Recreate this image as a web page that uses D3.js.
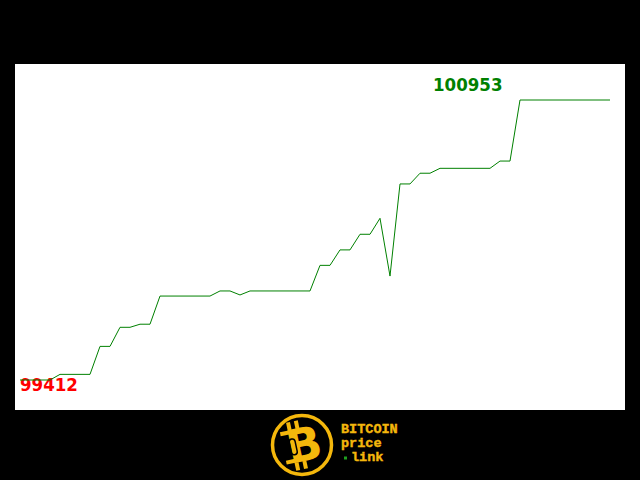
<!DOCTYPE html>
<html>
<head>
<meta charset="utf-8">
<script src="https://d3js.org/d3.v7.min.js"></script>
<style>
html,body{margin:0;padding:0;background:#000;}
svg{display:block;}
</style>
</head>
<body>
<script>
const prices = [
  99412, 99412, 99412, 99412, 99443, 99443, 99443, 99443, 99597, 99597,
  99702, 99702, 99719, 99719, 99874, 99874, 99874, 99874, 99874, 99874,
  99902, 99902, 99880, 99902, 99902, 99902, 99902, 99902, 99902, 99902,
  100043, 100043, 100128, 100128, 100214, 100214, 100302, 99984, 100491, 100491,
  100550, 100550, 100577, 100577, 100577, 100577, 100577, 100577, 100617, 100617,
  100953, 100953, 100953, 100953, 100953, 100953, 100953, 100953, 100953, 100953
];
const minLabel = "99412";
const maxLabel = "100953";
const logoLines = ["BITCOIN", "price", "link"];

const W = 640, H = 480;
const svg = d3.select("body").append("svg").attr("width", W).attr("height", H);
svg.append("rect").attr("width", W).attr("height", H).attr("fill", "#000");
svg.append("rect").attr("x", 15).attr("y", 64).attr("width", 610).attr("height", 346).attr("fill", "#fff");

const x = d3.scaleLinear().domain([0, prices.length - 1]).range([20, 610]);
const y = d3.scaleLinear().domain([d3.min(prices), d3.max(prices)]).range([380, 100]);

const font = "'DejaVu Sans Condensed', 'DejaVu Sans', sans-serif";
svg.append("text").attr("x", 433).attr("y", 91).attr("fill", "#008000")
  .attr("font-family", font).attr("font-weight", "bold").attr("font-size", 18.5)
  .text(maxLabel);
svg.append("text").attr("x", 20).attr("y", 391).attr("fill", "#ff0000")
  .attr("font-family", font).attr("font-weight", "bold").attr("font-size", 18.5)
  .text(minLabel);

const line = d3.line().x((d, i) => x(i)).y(d => y(d));
svg.append("path").datum(prices).attr("d", line).attr("fill", "none")
  .attr("stroke", "#008000").attr("stroke-width", 1);

// logo
const gold = "#f4b70c";
const g = svg.append("g").attr("transform", "translate(302,445)");
g.append("circle").attr("r", 29.5).attr("fill", "#000").attr("stroke", gold).attr("stroke-width", 3.5);
const bg = g.append("g").attr("transform", "rotate(-12)");
bg.append("rect").attr("x", -11).attr("y", -25).attr("width", 4).attr("height", 8).attr("fill", gold);
bg.append("rect").attr("x", -3).attr("y", -25).attr("width", 4).attr("height", 8).attr("fill", gold);
bg.append("rect").attr("x", -11).attr("y", 16).attr("width", 4).attr("height", 8).attr("fill", gold);
bg.append("rect").attr("x", -3).attr("y", 16).attr("width", 4).attr("height", 8).attr("fill", gold);
bg.append("text").attr("x", 2).attr("y", 16).attr("text-anchor", "middle")
  .attr("font-family", "'DejaVu Sans', sans-serif").attr("font-weight", "bold")
  .attr("font-size", 46).attr("fill", gold).text("B");
bg.append("rect").attr("x", -19).attr("y", -17).attr("width", 10).attr("height", 4).attr("fill", gold);
bg.append("rect").attr("x", -19).attr("y", 12).attr("width", 10).attr("height", 4).attr("fill", gold);
bg.append("rect").attr("x", -12).attr("y", -8).attr("width", 6).attr("height", 16).attr("rx", 3)
  .attr("fill", "none").attr("stroke", "#000").attr("stroke-width", 1.5);

const mono = "'Liberation Mono', 'DejaVu Sans Mono', monospace";
const ty = [433, 447, 461];
logoLines.forEach((t, i) => {
  svg.append("text").attr("x", i === 2 ? 351 : 341).attr("y", ty[i])
    .attr("font-family", mono).attr("font-weight", "bold").attr("font-size", 13.5)
    .attr("stroke", gold).attr("stroke-width", 0.4)
    .attr("fill", gold).text(t);
});
svg.append("rect").attr("x", 344).attr("y", 456.5).attr("width", 3).attr("height", 3).attr("fill", "#1fa01f");
</script>
</body>
</html>
